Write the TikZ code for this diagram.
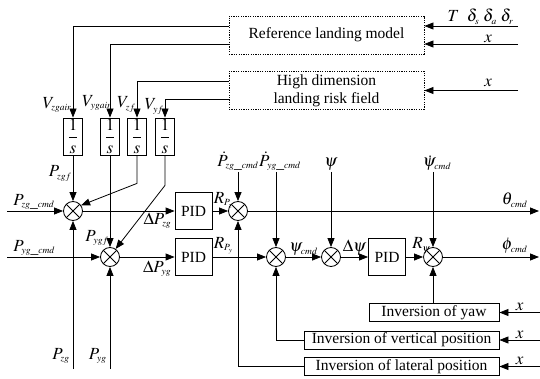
\documentclass[tikz,border=0pt]{standalone}
\usepackage{mathptmx}
\usepackage{fontspec}
\setmainfont{Liberation Serif}
\DeclareMathSizes{15.5}{17}{9.5}{7}
\usetikzlibrary{arrows.meta,calc}

\begin{document}
\begin{tikzpicture}[
    x=1pt, y=-1pt,
    font=\fontsize{15.5}{18}\selectfont,
    line width=0.8pt,
    dotbox/.style={draw, dash pattern=on 1.2pt off 1.2pt, minimum width=195pt, minimum height=38pt, align=center, inner sep=1pt},
    intbox/.style={draw, minimum width=19pt, minimum height=37pt, inner sep=0pt},
    pidbox/.style={draw, minimum width=37pt, minimum height=37pt, inner sep=0pt},
    invbox/.style={draw, minimum height=18pt, inner sep=1pt},
    sumj/.style={circle, draw, minimum size=19pt, inner sep=0pt,
        path picture={\draw (path picture bounding box.north west) -- (path picture bounding box.south east)
                            (path picture bounding box.north east) -- (path picture bounding box.south west);}},
    arr/.style={-{Triangle[length=9pt,width=7pt]}},
    lab/.style={inner sep=1pt}
]
    \useasboundingbox (0,0) rectangle (540,379);

    % Reference model and risk field
    \node[dotbox] (refm) at (326.5,35) {Reference landing model};
    \node[dotbox] (hdr) at (326.5,90.5) {High dimension\\landing risk field};

    % Integrators
    \node[intbox] (int1) at (73,136.5) {$\displaystyle\frac{1}{s}$};
    \node[intbox] (int2) at (110,136.5) {$\displaystyle\frac{1}{s}$};
    \node[intbox] (int3) at (137,136.5) {$\displaystyle\frac{1}{s}$};
    \node[intbox] (int4) at (165,136.5) {$\displaystyle\frac{1}{s}$};

    % Summing junctions and PID
    \node[sumj] (s1) at (73,211) {};
    \node[sumj] (s2) at (110,257) {};
    \node[pidbox] (pid1) at (193.5,211) {PID};
    \node[pidbox] (pid2) at (193.5,257) {PID};
    \node[sumj] (s3) at (238,211) {};
    \node[sumj] (s4) at (276,257) {};
    \node[sumj] (s5) at (331,257) {};
    \node[pidbox] (pid3) at (387,257) {PID};
    \node[sumj] (s6) at (433,257) {};

    % Inversion blocks
    \node[invbox, minimum width=130pt] (invyaw) at (434,312.5) {Inversion of yaw};
    \node[invbox, minimum width=195pt] (invver) at (401.5,340) {Inversion of vertical position};
    \node[invbox, minimum width=195pt] (invlat) at (401.5,366.5) {Inversion of lateral position};

    % Free ends
    \coordinate (tin) at (518,26);
    \coordinate (xin1) at (518,44);
    \coordinate (xin2) at (518,90.5);
    \coordinate (pzc) at (7,211);
    \coordinate (pyc) at (7,257);
    \coordinate (pzg) at (73,369);
    \coordinate (pyg) at (110,369);
    \coordinate (pzd) at (238,172);
    \coordinate (pyd) at (276,172);
    \coordinate (psi) at (331,172);
    \coordinate (psid) at (433,172);
    \coordinate (thout) at (539,211);
    \coordinate (phout) at (539,257);
    \coordinate (xyaw) at (540,312.5);
    \coordinate (xver) at (540,340);
    \coordinate (xlat) at (540,366.5);

    % Inputs to the upper blocks
    \draw[arr] (tin) -- (tin -| refm.east) node[pos=0.4, above, lab] {$T\;\;\delta_s\;\delta_a\;\delta_r$};
    \draw[arr] (xin1) -- (xin1 -| refm.east) node[pos=0.32, above, lab] {$x$};
    \draw[arr] (xin2) -- (xin2 -| hdr.east) node[pos=0.32, above, lab, yshift=2pt] {$x$};

    % Velocities to integrators
    \draw[arr] ([yshift=9pt]refm.west) -| (int1.north) node[pos=0.93, left, lab] {$V_{zgair}$};
    \draw[arr] ([yshift=-9pt]refm.west) -| (int2.north) node[pos=0.9, left, lab, xshift=3pt] {$V_{ygair}$};
    \draw[arr] ([yshift=9.5pt]hdr.west) -| (int3.north) node[pos=0.82, left, lab] {$V_{zf}$};
    \draw[arr] ([yshift=-8.5pt]hdr.west) -| (int4.north) node[pos=0.7, left, lab] {$V_{yf}$};

    % Integrator outputs
    \draw[arr] (int1.south) -- (s1.north) node[pos=0.4, left, lab] {$P_{zgf}$};
    \draw[arr] (int2.south) -- (s2.north) node[pos=0.9, left, lab] {$P_{ygf}$};
    \draw[arr] (int3.south) -- ++(0,28) -- (s1.35);
    \draw[arr] (int4.south) -- ++(0,30) -- (s2.55);

    % Position loops
    \draw[arr] (pzc) -- (s1.west) node[at start, anchor=south west, lab, xshift=5pt] {$P_{zg\_cmd}$};
    \draw[arr] (pyc) -- (s2.west) node[at start, anchor=south west, lab, xshift=5pt] {$P_{yg\_cmd}$};
    \draw[arr] (pzg) -- (s1.south) node[at start, anchor=south east, lab, yshift=4pt, xshift=-2pt] {$P_{zg}$};
    \draw[arr] (pyg) -- (s2.south) node[at start, anchor=south east, lab, yshift=4pt, xshift=-2pt] {$P_{yg}$};
    \draw[arr] (s1) -- (pid1) node[at end, anchor=north east, lab, xshift=-2pt] {$\Delta P_{zg}$};
    \draw[arr] (s2) -- (pid2) node[at end, anchor=north east, lab, xshift=-2pt, yshift=-2pt] {$\Delta P_{yg}$};
    \draw[arr] (pid1) -- (s3) node[at start, anchor=south west, lab, yshift=2pt] {$R_{P_z}$};
    \draw[arr] (pid2) -- (s4) node[at start, anchor=south west, lab, yshift=2pt] {$R_{P_y}$};

    % Command rates
    \draw[arr] (pzd) -- (s3.north) node[at start, above, lab] {$\dot{P}_{zg\_cmd}$};
    \draw[arr] (pyd) -- (s4.north) node[at start, above, lab, xshift=4pt] {$\dot{P}_{yg\_cmd}$};
    \draw[arr] (psi) -- (s5.north) node[at start, above, lab] {$\psi$};
    \draw[arr] (psid) -- (s6.north) node[at start, above, lab, xshift=4pt] {$\dot{\psi}_{cmd}$};

    % Yaw loop
    \draw[arr] (s4) -- (s5) node[midway, above, lab] {$\psi_{cmd}$};
    \draw[arr] (s5) -- (pid3) node[midway, above, lab] {$\Delta\psi$};
    \draw[arr] (pid3) -- (s6) node[at start, anchor=south west, lab, xshift=5pt, yshift=2pt] {$R_\psi$};

    % Outputs
    \draw[arr] (s3) -- (thout) node[at end, anchor=south east, lab, xshift=-10pt, yshift=2pt] {$\theta_{cmd}$};
    \draw[arr] (s6) -- (phout) node[at end, anchor=south east, lab, xshift=-10pt, yshift=2pt] {$\phi_{cmd}$};

    % Inversion feedback
    \draw[arr] (s6 |- invyaw.north) -- (s6.south);
    \draw[arr] (invver.west) -| (s4.south);
    \draw[arr] (invlat.west) -| (s3.south);
    \draw[arr] (xyaw) -- (invyaw.east) node[midway, above, lab] {$x$};
    \draw[arr] (xver) -- (invver.east) node[midway, above, lab] {$x$};
    \draw[arr] (xlat) -- (invlat.east) node[midway, above, lab] {$x$};
\end{tikzpicture}
\end{document}
